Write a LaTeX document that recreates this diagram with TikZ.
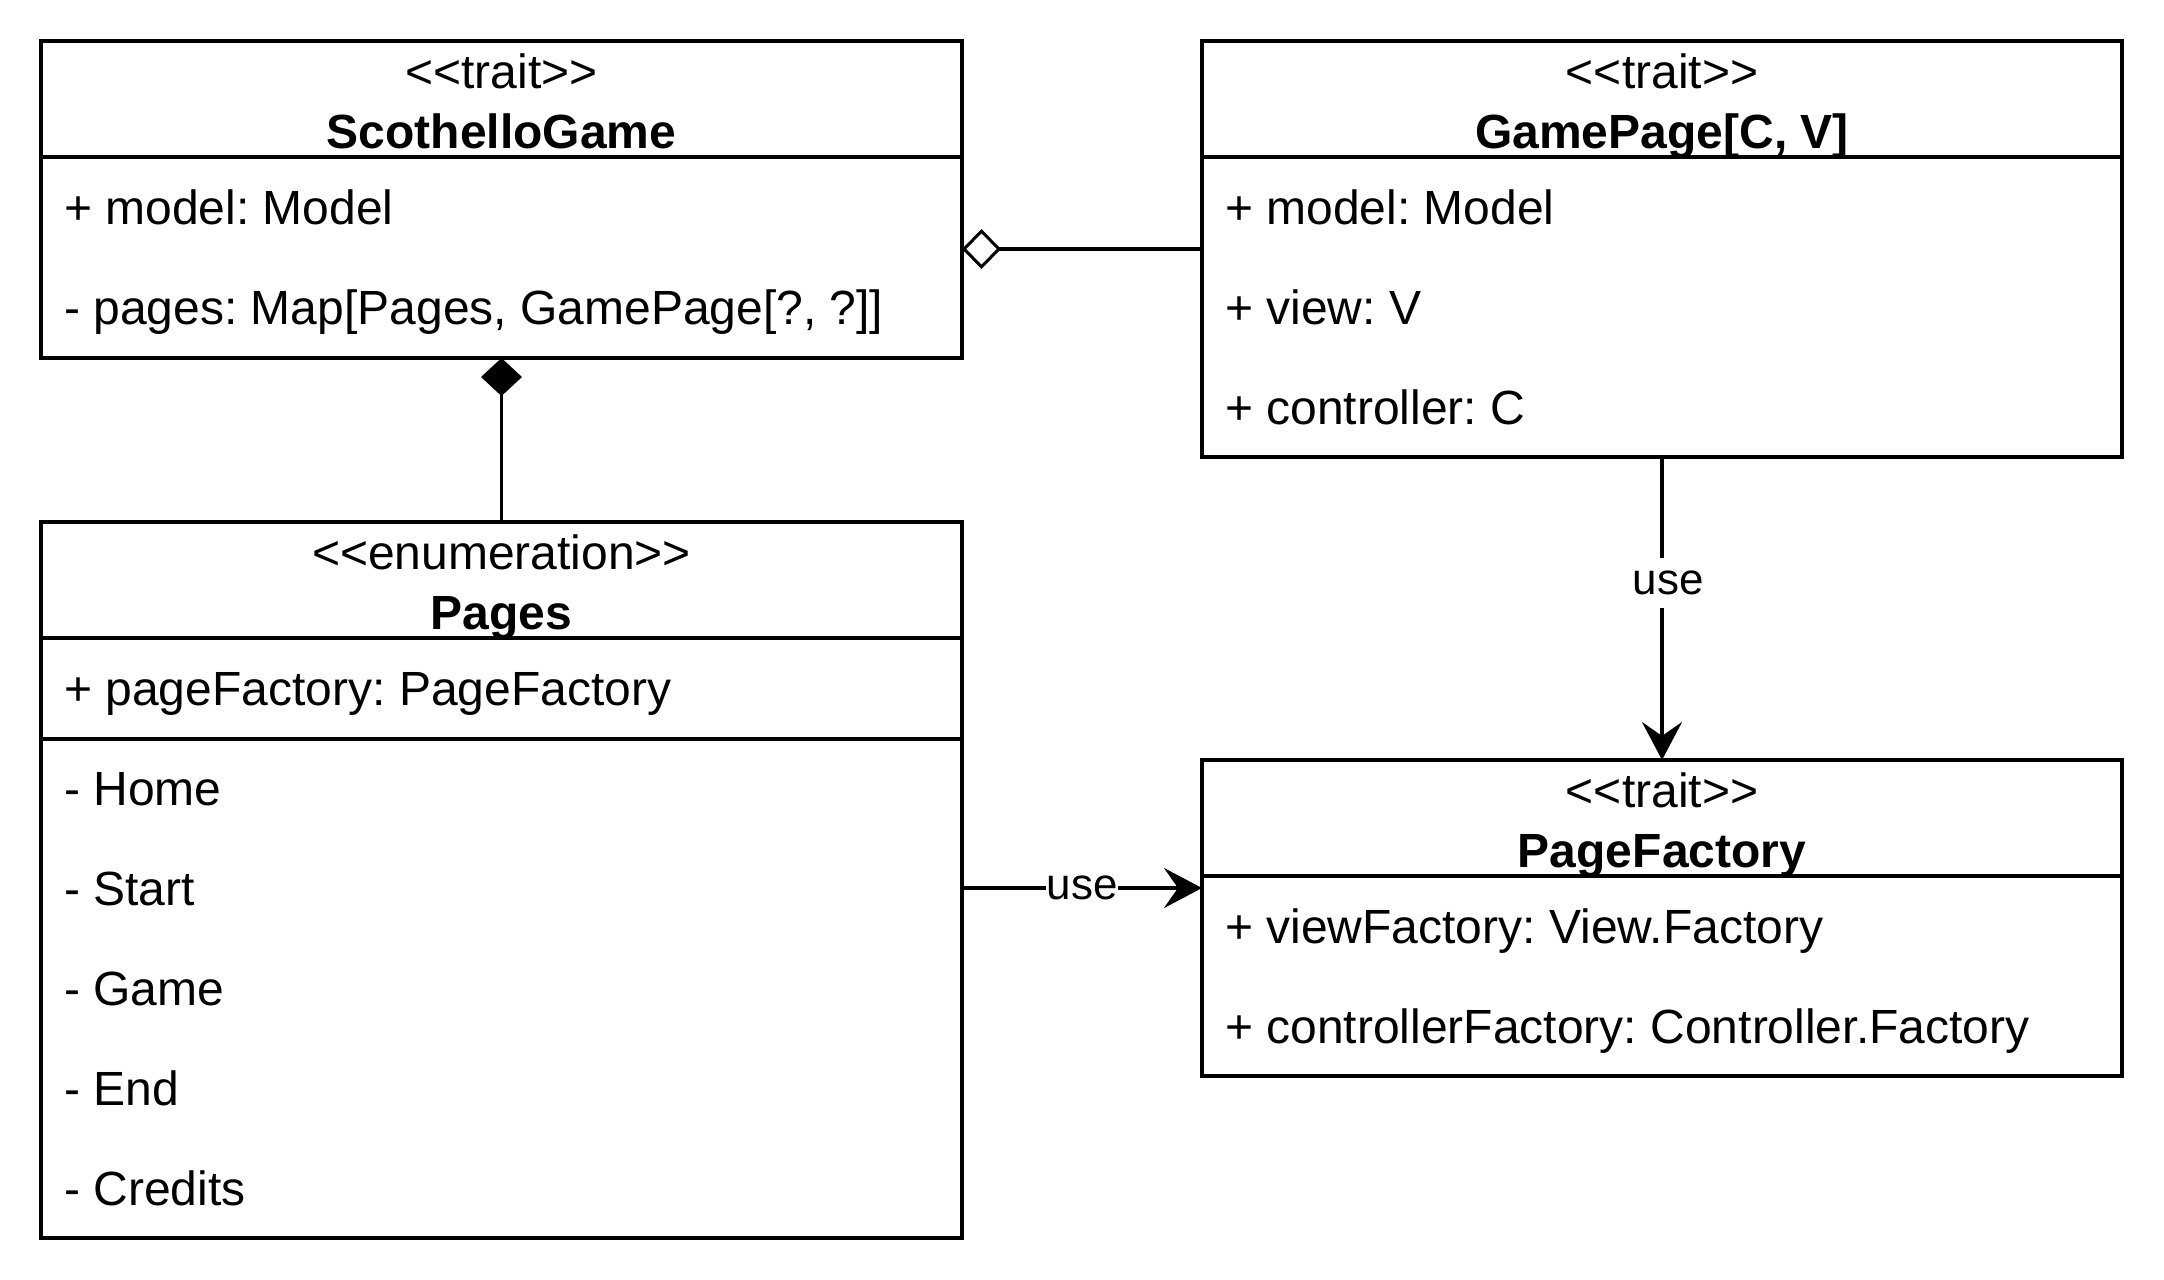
\documentclass[tikz,border=0pt]{standalone}
\usepackage{fontspec}
\setmainfont{Liberation Sans}[Ligatures=TeXOff]
\usetikzlibrary{arrows.meta}
\frenchspacing
\begin{document}
\begin{tikzpicture}[x=1pt,y=-1pt,
  umlbox/.style={draw, line width=3.85pt, anchor=north west, inner sep=0pt, outer sep=0pt},
  divider/.style={line width=3.85pt},
  attr/.style={anchor=base west, inner sep=0pt, font=\fontsize{48}{57}\selectfont},
  stereo/.style={anchor=base, inner sep=0pt, font=\fontsize{48}{57}\selectfont},
  ttl/.style={anchor=base, inner sep=0pt, font=\fontsize{48}{57}\selectfont\bfseries},
  conn/.style={line width=3.85pt},
  lbl/.style={fill=white, inner xsep=1pt, inner ysep=0pt, minimum height=50pt, font=\fontsize{44}{52}\selectfont},
  usetip/.style={-{Stealth[length=38pt, width=40pt, inset=14pt]}}
]
\useasboundingbox (0,0) rectangle (2164,1280);

% ScothelloGame
\node[umlbox, minimum width=921pt, minimum height=317pt] (sg) at (41,41) {};
\draw[divider] (41,157) -- (962,157);
\node[stereo] (sgs) at (501.5,88) {<<trait>>};
\node[ttl] (sgt) at (501.5,148) {ScothelloGame};
\node[attr] (sga1) at (64,224) {+ model: Model};
\node[attr] (sga2) at (64,324) {- pages: Map[Pages, GamePage[?, ?]]};

% GamePage
\node[umlbox, minimum width=920pt, minimum height=416pt] (gp) at (1202,41) {};
\draw[divider] (1202,157) -- (2122,157);
\node[stereo] (gps) at (1662,88) {<<trait>>};
\node[ttl] (gpt) at (1662,148) {GamePage[C, V]};
\node[attr] (gpa1) at (1225,224) {+ model: Model};
\node[attr] (gpa2) at (1225,324) {+ view: V};
\node[attr] (gpa3) at (1225,424) {+ controller: C};

% Pages
\node[umlbox, minimum width=921pt, minimum height=716pt] (pg) at (41,522) {};
\draw[divider] (41,638) -- (962,638);
\draw[divider] (41,739) -- (962,739);
\node[stereo] (pgs) at (501.5,569) {<<enumeration>>};
\node[ttl] (pgt) at (501.5,629) {Pages};
\node[attr] (pga1) at (64,705) {+ pageFactory: PageFactory};
\node[attr] (pge1) at (64,805) {- Home};
\node[attr] (pge2) at (64,905) {- Start};
\node[attr] (pge3) at (64,1005) {- Game};
\node[attr] (pge4) at (64,1105) {- End};
\node[attr] (pge5) at (64,1205) {- Credits};

% PageFactory
\node[umlbox, minimum width=920pt, minimum height=316pt] (pf) at (1202,760) {};
\draw[divider] (1202,876) -- (2122,876);
\node[stereo] (pfs) at (1662,807) {<<trait>>};
\node[ttl] (pft) at (1662,867) {PageFactory};
\node[attr] (pfa1) at (1225,943) {+ viewFactory: View.Factory};
\node[attr] (pfa2) at (1225,1043) {+ controllerFactory: Controller.Factory};

% connectors
\draw[conn, -{Diamond[fill=black, length=38pt, width=41pt]}] (pg.north) -- (sg.south);
\draw[conn, -{Diamond[open, length=39pt, width=40pt, line width=3pt]}] (gp.west) -- (sg.east |- gp.west);
\draw[conn, usetip] (gp.south) -- (pf.north);
\draw[conn, usetip] ([yshift=-8pt]pg.east) -- ([yshift=-8pt]pg.east -| pf.west);

\node[lbl] (use1) at (1668,583) {use};
\node[lbl] (use2) at (1082,888) {use};
\end{tikzpicture}
\end{document}
